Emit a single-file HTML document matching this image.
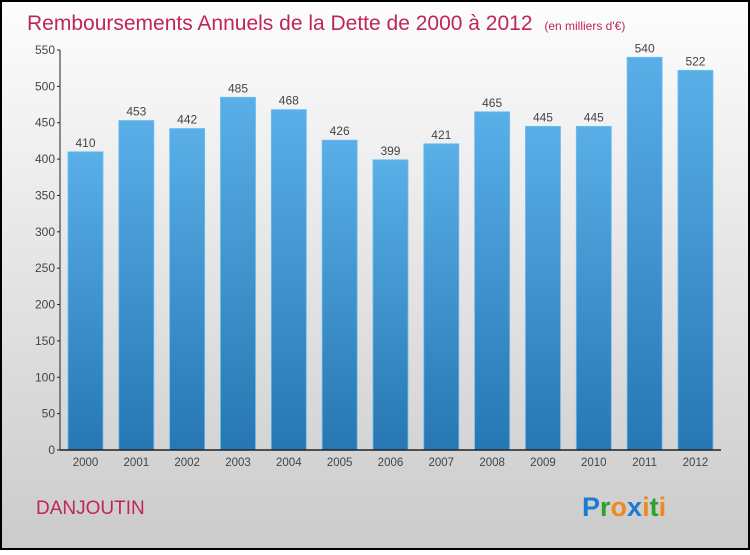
<!DOCTYPE html>
<html><head><meta charset="utf-8"><style>
html,body{margin:0;padding:0}
body{width:750px;height:550px;overflow:hidden;font-family:"Liberation Sans",sans-serif}
</style></head><body>
<svg id="chart" width="750" height="550" xmlns="http://www.w3.org/2000/svg">
<defs>
<linearGradient id="bg" x1="0" y1="0" x2="0" y2="1"><stop offset="0" stop-color="#fdfdfd"/><stop offset="1" stop-color="#cbcbcb"/></linearGradient>
<linearGradient id="bar" x1="0" y1="0" x2="0" y2="1"><stop offset="0" stop-color="#5aafe8"/><stop offset="1" stop-color="#2677b3"/></linearGradient>
</defs>
<rect x="1" y="1" width="748" height="548" fill="url(#bg)" stroke="#000" stroke-width="2"/>
<text x="27" y="30" font-size="21" fill="#c0245c">Remboursements Annuels de la Dette de 2000 à 2012 <tspan font-size="12" dx="6">(en milliers d'€)</tspan></text>
<g id="yaxis"></g>
<g id="bars"></g>
<g id="xaxis"></g>
<text x="36" y="514" font-size="19" fill="#c0245c">DANJOUTIN</text>
<g font-size="27" font-weight="bold" font-family="'Liberation Sans',sans-serif">
<text x="582" y="516"><tspan fill="#1e7bd0">P</tspan><tspan fill="#2da02d">r</tspan><tspan fill="#f08a1c">o</tspan><tspan fill="#1e7bd0">x</tspan><tspan fill="#f08a1c">i</tspan><tspan fill="#2da02d">t</tspan><tspan fill="#f08a1c">i</tspan></text>
</g>
</svg>
<script>
const categories=["2000","2001","2002","2003","2004","2005","2006","2007","2008","2009","2010","2011","2012"];
const values=[410,453,442,485,468,426,399,421,465,445,445,540,522];
const yTicks=[0,50,100,150,200,250,300,350,400,450,500,550];
const NS="http://www.w3.org/2000/svg";
const y0=450,yTop=50,yMax=550;
function yScale(v){return y0-(v/yMax)*(y0-yTop);}
function xScale(i){return 68+i*50.83;}
const bw=35;
function mk(tag,attrs,parent,txt){const e=document.createElementNS(NS,tag);for(const k in attrs)e.setAttribute(k,attrs[k]);if(txt!==undefined)e.textContent=txt;parent.appendChild(e);return e;}
const ya=document.getElementById('yaxis'),bg=document.getElementById('bars'),xa=document.getElementById('xaxis');
mk('line',{x1:60,y1:yTop,x2:60,y2:y0,stroke:'#222','stroke-width':1},ya);
yTicks.forEach(t=>{const y=yScale(t);
mk('line',{x1:57,y1:y,x2:60,y2:y,stroke:'#222'},ya);
const l=mk('text',{x:55,y:y+4,'text-anchor':'end','font-size':12,fill:'#444'},ya,t);

});
mk('line',{x1:60,y1:y0,x2:721,y2:y0,stroke:'#222','stroke-width':1.5},xa);
values.forEach((v,i)=>{const x=xScale(i),y=yScale(v);
const r=mk('rect',{x:x,y:y,width:bw,height:y0-y,fill:'url(#bar)',stroke:'#6bbdf0','stroke-width':0.8},bg);


const t=mk('text',{x:x+bw/2,y:y-5,'text-anchor':'middle','font-size':12,fill:'#444'},bg,v);


const c=mk('text',{x:x+bw/2,y:466,'text-anchor':'middle','font-size':11.5,fill:'#444'},xa,categories[i]);

});
</script>
</body></html>
